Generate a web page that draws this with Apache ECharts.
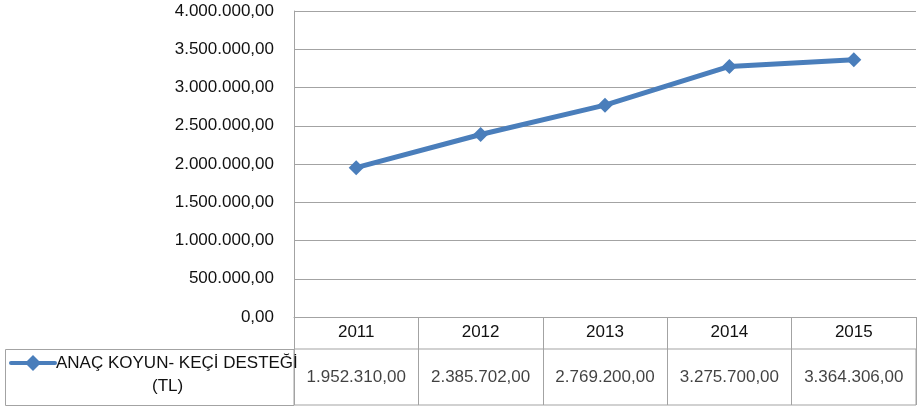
<!DOCTYPE html>
<html>
<head>
<meta charset="utf-8">
<script src="https://cdn.jsdelivr.net/npm/echarts@6/dist/echarts.min.js"></script>
<style>
html,body{margin:0;padding:0;background:#fff;}
#c{width:923px;height:408px;}
</style>
</head>
<body>
<div id="c"></div>
<script>
const years = ['2011', '2012', '2013', '2014', '2015'];
const values = [1952310, 2385702, 2769200, 3275700, 3364306];
const seriesName = 'ANAÇ KOYUN- KEÇİ DESTEĞİ';
const seriesUnit = '(TL)';
const yMin = 0, yMax = 4000000, yStep = 500000;

function fmt(v) {
  const s = Math.round(v).toString().replace(/\B(?=(\d{3})+(?!\d))/g, '.');
  return s + ',00';
}

const FONT = 'Liberation Sans';
const TXT = '#111111';
const GRAY = '#a3a3a3';
const BLUE = '#4a7ebb';

const chart = echarts.init(document.getElementById('c'), null, {renderer: 'canvas'});
chart.setOption({
  animation: false,
  textStyle: {fontFamily: FONT},
  grid: [
    {left: 294, right: 7, top: 11, bottom: 91, containLabel: false},
    {left: 294, right: 7, top: 349, bottom: 3, show: true, borderColor: GRAY, borderWidth: 1, containLabel: false}
  ],
  legend: {
    data: [seriesName],
    left: 9, top: 353, padding: 0,
    itemWidth: 44, itemHeight: 20, itemGap: 2,
    lineStyle: {width: 4, cap: 'round'},
    textStyle: {fontSize: 17, color: TXT, fontFamily: FONT, lineHeight: 20, padding: [0, 0, 0, -4]}
  },
  xAxis: [
    {
      type: 'category', data: years, gridIndex: 0, boundaryGap: true,
      axisLine: {lineStyle: {color: GRAY, width: 1}},
      axisTick: {show: true, length: 32, lineStyle: {color: GRAY}},
      axisLabel: {fontSize: 17, color: TXT, margin: 7, fontFamily: FONT},
      splitLine: {show: false}
    },
    {
      type: 'category', data: years, gridIndex: 1, boundaryGap: true,
      axisLine: {show: false}, axisTick: {show: false}, axisLabel: {show: false},
      splitLine: {show: true, interval: 0, lineStyle: {color: GRAY, width: 1}}
    }
  ],
  yAxis: [
    {
      type: 'value', gridIndex: 0, min: yMin, max: yMax, interval: yStep,
      axisLine: {show: true, lineStyle: {color: GRAY, width: 1}},
      axisTick: {show: false},
      axisLabel: {fontSize: 17, color: TXT, margin: 20, formatter: v => fmt(v), fontFamily: FONT},
      splitLine: {show: true, lineStyle: {color: GRAY, width: 1}}
    },
    {type: 'value', gridIndex: 1, min: 0, max: 1, show: false}
  ],
  series: [
    {
      name: seriesName, type: 'line', xAxisIndex: 0, yAxisIndex: 0,
      data: values,
      symbol: 'diamond', symbolSize: 15,
      lineStyle: {color: BLUE, width: 5},
      itemStyle: {color: BLUE},
      z: 5
    },
    {
      type: 'scatter', xAxisIndex: 1, yAxisIndex: 1,
      data: values.map((v, i) => [years[i], 0.5, v]),
      symbolSize: 0, silent: true,
      label: {show: true, position: 'inside', formatter: p => fmt(p.value[2]), fontSize: 17, color: TXT, fontFamily: FONT}
    }
  ],
  graphic: [
    {type: 'polyline', shape: {points: [[294, 349.5], [5.5, 349.5], [5.5, 405.5], [294, 405.5]]}, style: {stroke: GRAY, fill: null, lineWidth: 1}, silent: true},
    {type: 'text', left: 152, top: 378, style: {text: seriesUnit, fontSize: 17, fill: TXT, fontFamily: FONT}, silent: true}
  ]
});
</script>
</body>
</html>
